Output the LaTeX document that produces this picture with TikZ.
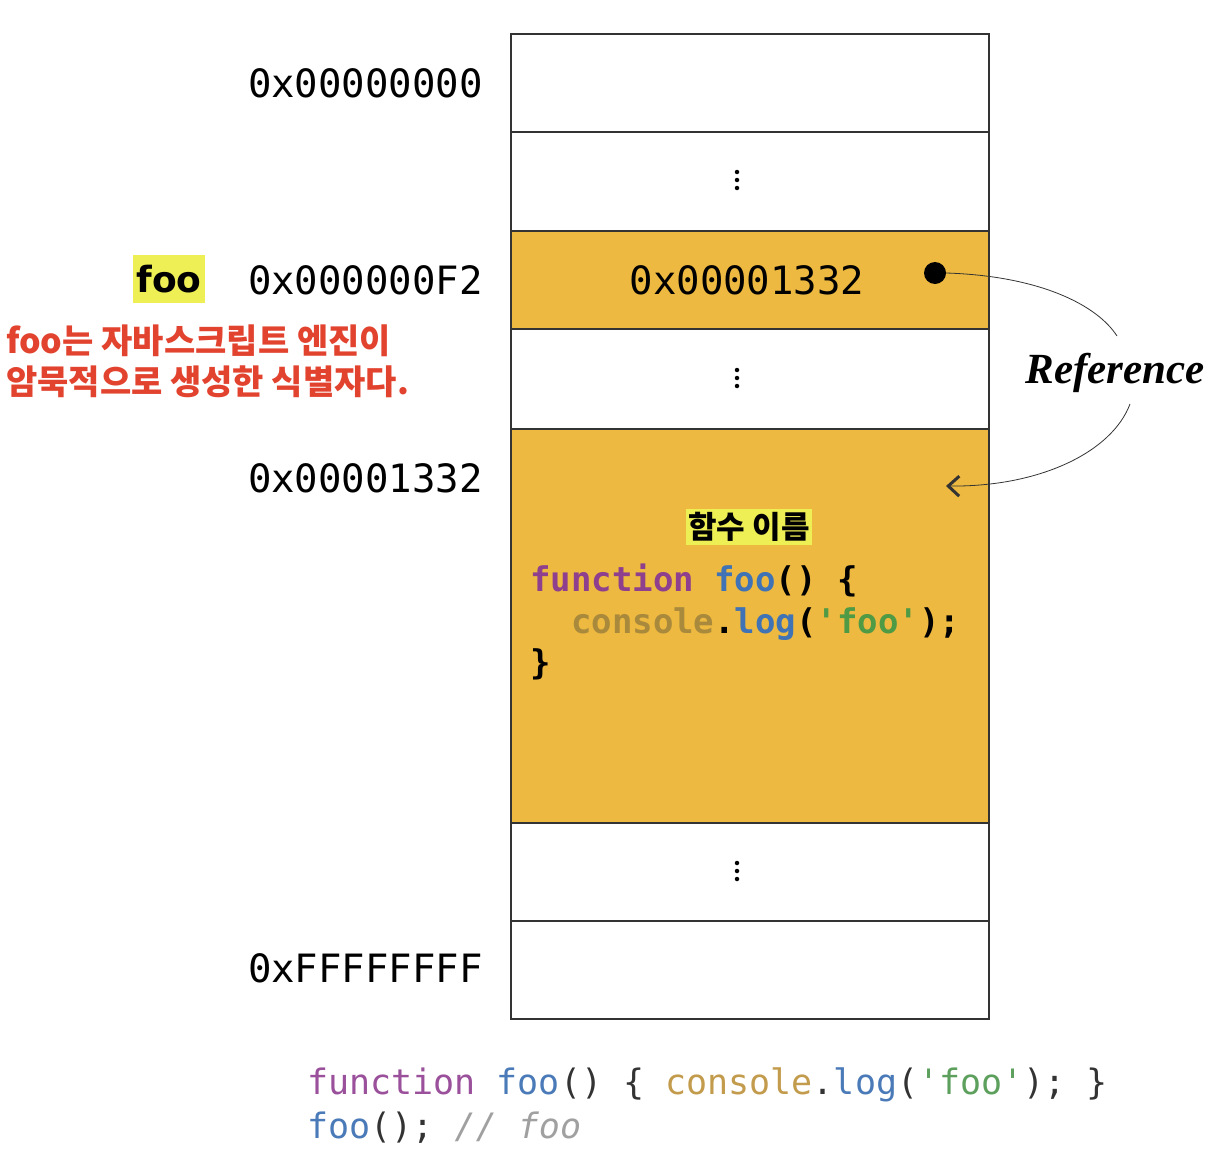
\documentclass[tikz,border=0pt]{standalone}
\usepackage{fontspec}
\usetikzlibrary{arrows.meta}
\newfontfamily\monofont{DejaVu Sans Mono}
\newfontfamily\kofont{Noto Sans CJK KR}
\newfontfamily\serifbi{Liberation Serif}
\definecolor{cellfill}{HTML}{EDB940}
\definecolor{hilite}{HTML}{EEEE55}
\definecolor{redtxt}{HTML}{E2432F}
\definecolor{kwpurple}{HTML}{8E3F8E}
\definecolor{fnblue}{HTML}{3F73B5}
\definecolor{contan}{HTML}{A9893C}
\definecolor{strgreen}{HTML}{4F9A45}
\definecolor{bkwpurple}{HTML}{9A509A}
\definecolor{bfnblue}{HTML}{4A7AB8}
\definecolor{bcontan}{HTML}{C39B4C}
\definecolor{bstrgreen}{HTML}{5DA05D}
\definecolor{cmtgray}{HTML}{A0A0A0}
\definecolor{linegray}{HTML}{333333}
\tikzset{
  cell/.style={draw=linegray, line width=1.8pt, minimum width=478pt, inner sep=0pt, anchor=north west},
  addr/.style={font=\monofont\fontsize{39}{39}\selectfont, anchor=east, inner sep=0pt},
  vdot/.style={circle, fill=black, inner sep=0pt, minimum size=4.5pt},
  boxcode/.style={font=\monofont\bfseries\fontsize{34}{43}\selectfont, anchor=west, inner sep=0pt},
  botcode/.style={font=\monofont\fontsize{35}{43}\selectfont, anchor=west, inner sep=0pt},
  refline/.style={line width=0.8pt, draw=linegray}
}
\begin{document}
\begin{tikzpicture}[x=1pt,y=-1pt]
\useasboundingbox (0,0) rectangle (1232,1172);
% memory cells
\node[cell, minimum height=98pt] (c1) at (510,33) {};
\node[cell, minimum height=99pt] (c2) at (510,131) {};
\node[cell, minimum height=98pt, fill=cellfill] (c3) at (510,230) {};
\node[cell, minimum height=100pt] (c4) at (510,328) {};
\node[cell, minimum height=394pt, fill=cellfill] (c5) at (510,428) {};
\node[cell, minimum height=98pt] (c6) at (510,822) {};
\node[cell, minimum height=98pt] (c7) at (510,920) {};
% vertical dots
\foreach \n/\yy in {a/180, b/378, c/871}{
  \node[vdot] (d\n1) at (737,\yy-8) {};
  \node[vdot] (d\n2) at (737,\yy) {};
  \node[vdot] (d\n3) at (737,\yy+8) {};
}
% addresses
\node[addr] (a1) at (483,83) {0x00000000};
\node[addr] (a2) at (483,280) {0x000000F2};
\node[addr] (a3) at (483,478) {0x00001332};
\node[addr] (a4) at (483,968) {0xFFFFFFFF};
% foo label
\node[fill=hilite, inner xsep=3pt, minimum height=48pt, font=\fontspec{DejaVu Sans}\bfseries\fontsize{36}{36}\selectfont] (foo) at (169,279) {foo};
% red note
\node[anchor=north west, inner sep=0pt, align=left, text=redtxt, font=\kofont\bfseries\fontsize{34}{41}\selectfont] (note) at (6,325) {foo는 자바스크립트 엔진이\\암묵적으로 생성한 식별자다.};
% pointer cell
\node[font=\monofont\fontsize{39}{39}\selectfont, inner sep=0pt] (ptr) at (747,280) {0x00001332};
\node[circle, fill=black, inner sep=0pt, minimum size=22pt] (dot) at (935,273) {};
% function cell
\node[fill=hilite, inner xsep=2pt, inner ysep=3pt, font=\kofont\bfseries\fontsize{31}{31}\selectfont] (fname) at (749,527) {함수 이름};
\node[boxcode] (l1) at (530,580) {\textcolor{kwpurple}{function} \textcolor{fnblue}{foo}() \{};
\node[boxcode] (l2) at (530,624) {\phantom{xx}\textcolor{contan}{console}.\textcolor{fnblue}{log}(\textcolor{strgreen}{'foo'});};
\node[boxcode] (l3) at (530,664) {\}};
% reference arrow
\node[font=\serifbi\bfseries\itshape\fontsize{43}{43}\selectfont, inner sep=0pt] (ref) at (1115,373) {Reference};
\coordinate (r1) at (1117,336);
\coordinate (r2) at (1130,404);
\coordinate (tip) at (946,486);
\draw[refline] (dot.east) .. controls (1040,276) and (1097,305) .. (r1);
\draw[refline, -{Straight Barb[length=11pt, width=20pt, line width=3pt]}] (r2) .. controls (1112,452) and (1040,487) .. (tip);
% bottom code
\node[botcode, text=linegray] (b1) at (307,1085) {\textcolor{bkwpurple}{function} \textcolor{bfnblue}{foo}() \{ \textcolor{bcontan}{console}.\textcolor{bfnblue}{log}(\textcolor{bstrgreen}{'foo'}); \}};
\node[botcode, text=linegray] (b2) at (307,1128) {\textcolor{bfnblue}{foo}(); \textcolor{cmtgray}{\itshape // foo}};
\end{tikzpicture}
\end{document}
